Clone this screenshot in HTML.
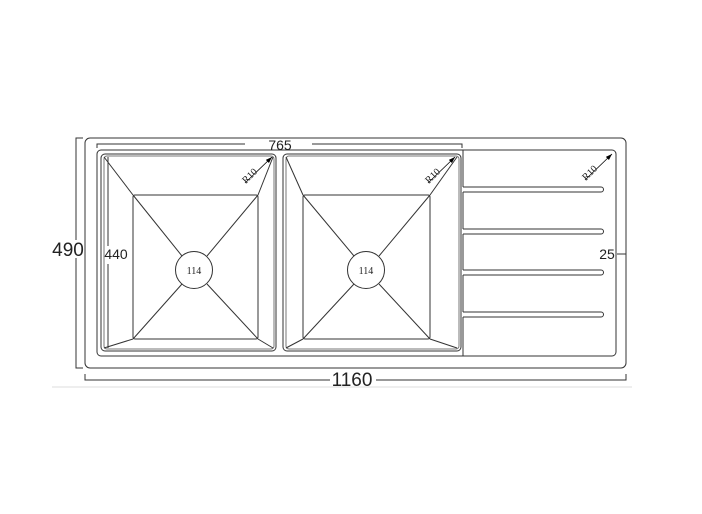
<!DOCTYPE html>
<html><head><meta charset="utf-8"><style>
html,body{margin:0;padding:0;background:#fff;}
svg{display:block;}
text{font-family:"Liberation Sans",sans-serif;}
text.s{font-family:"Liberation Serif",serif;}
</style></head><body>
<svg width="702" height="514" viewBox="0 0 702 514" xmlns="http://www.w3.org/2000/svg">
<defs>
<marker id="ah" viewBox="0 0 10 10" refX="10" refY="5" markerWidth="8" markerHeight="8" orient="auto"><path d="M0,1.5 L10,5 L0,8.5 z" fill="#000"/></marker>
</defs>
<g fill="none" stroke="#333" stroke-width="1">
<rect x="85" y="138" width="541" height="230" rx="5"/>
<rect x="97" y="150" width="519" height="206" rx="4"/>
<rect x="101" y="154" width="175" height="197" rx="4"/>
<rect x="104" y="156" width="170" height="193" rx="3" stroke="#777"/>
<rect x="133" y="195" width="125" height="144" rx="2"/>
<line x1="104" y1="157" x2="133" y2="195"/>
<line x1="273" y1="157" x2="258" y2="195"/>
<line x1="104" y1="348" x2="133" y2="339"/>
<line x1="273" y1="348" x2="258" y2="339"/>
<line x1="133" y1="195" x2="182" y2="256"/>
<line x1="258" y1="195" x2="207" y2="256"/>
<line x1="133" y1="339" x2="182" y2="284"/>
<line x1="258" y1="339" x2="207" y2="284"/>
<circle cx="194" cy="270" r="18.5"/>
<rect x="283" y="154" width="178" height="197" rx="4"/>
<rect x="286" y="156" width="173" height="193" rx="3" stroke="#777"/>
<rect x="303" y="195" width="127" height="144" rx="2"/>
<line x1="286" y1="157" x2="303" y2="195"/>
<line x1="457" y1="157" x2="430" y2="195"/>
<line x1="286" y1="348" x2="303" y2="339"/>
<line x1="457" y1="348" x2="430" y2="339"/>
<line x1="303" y1="195" x2="354" y2="256"/>
<line x1="430" y1="195" x2="379" y2="256"/>
<line x1="303" y1="339" x2="354" y2="284"/>
<line x1="430" y1="339" x2="379" y2="284"/>
<circle cx="366" cy="270" r="18.5"/>
<path d="M463,150 V187 M463,192 V229 M463,234 V270 M463,275 V312 M463,317 V356"/>
<path d="M463,187 H601 a2.5,2.5 0 0 1 0,5 H463"/>
<path d="M463,229 H601 a2.5,2.5 0 0 1 0,5 H463"/>
<path d="M463,270 H601 a2.5,2.5 0 0 1 0,5 H463"/>
<path d="M463,312 H601 a2.5,2.5 0 0 1 0,5 H463"/>
<path d="M83,138 H76 V240 M76,258 V368 H83"/>
<path d="M85,374 V380 H330 M376,380 H626 V374"/>
<path d="M97,148 V144 H245 M312,144 H462 V148"/>
<path d="M108,157 V246 M108,264 V348"/>
<path d="M617,254 H626"/>
</g>
<line x1="52" y1="387" x2="632" y2="387" stroke="#ddd" stroke-width="1"/>
<g stroke="#000" stroke-width="0.8">
<line x1="245" y1="183" x2="272" y2="157" marker-end="url(#ah)"/>
<line x1="428" y1="183" x2="455" y2="157" marker-end="url(#ah)"/>
<line x1="585" y1="180" x2="612" y2="154" marker-end="url(#ah)"/>
</g>
<g fill="#222">
<text x="280" y="150" font-size="14" text-anchor="middle">765</text>
<text x="68" y="256" font-size="19" text-anchor="middle">490</text>
<text x="116" y="259" font-size="14" text-anchor="middle">440</text>
<text x="352" y="386" font-size="19" text-anchor="middle">1160</text>
<text x="607" y="259" font-size="14" text-anchor="middle">25</text>
<text class="s" x="194" y="274" font-size="10" text-anchor="middle">114</text>
<text class="s" x="366" y="274" font-size="10" text-anchor="middle">114</text>
<text class="s" transform="translate(246,184) rotate(-45)" font-size="10">R10</text>
<text class="s" transform="translate(429,184) rotate(-45)" font-size="10">R10</text>
<text class="s" transform="translate(586,181) rotate(-45)" font-size="10">R10</text>
</g>
</svg>
</body></html>
